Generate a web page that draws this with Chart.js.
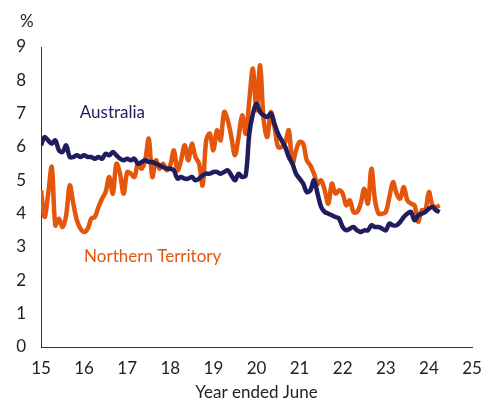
<!DOCTYPE html>
<html>
<head>
<meta charset="utf-8">
<script src="https://cdn.jsdelivr.net/npm/chart.js@4"></script>
<style>
  html, body { margin: 0; padding: 0; background: #fff; }
  #wrap { width: 494px; height: 403px; position: relative; }
</style>
</head>
<body>
<div id="wrap"><canvas id="canvas1"></canvas></div>
<script>
// monthly data, first point = June 2015 (year ended June '15)
var startYear = 15;
var australia = [
  6.05, 6.3, 6.2, 6.1, 6.2, 5.9, 5.85, 6.05, 5.7, 5.7, 5.75, 5.7,
  5.75, 5.7, 5.7, 5.65, 5.7, 5.65, 5.8, 5.75, 5.85, 5.75, 5.65, 5.6,
  5.65, 5.6, 5.65, 5.5, 5.55, 5.6, 5.55, 5.55, 5.5, 5.45, 5.4, 5.35,
  5.35, 5.3, 5.05, 5.1, 5.05, 5.05, 5.1, 5.0, 5.05, 5.15, 5.2, 5.2,
  5.25, 5.25, 5.2, 5.25, 5.3, 5.15, 5.0, 5.2, 5.1, 5.15, 6.4, 7.0,
  7.3, 7.05, 6.95, 6.9, 7.0, 6.7, 6.4, 6.2, 6.0, 5.7, 5.5, 5.2,
  5.05, 4.9, 4.65, 4.7, 5.0, 4.6, 4.2, 4.05, 4.0, 3.95, 3.9, 3.85,
  3.6, 3.5, 3.55, 3.6, 3.5, 3.45, 3.5, 3.5, 3.65, 3.6, 3.6, 3.55,
  3.5, 3.7, 3.65, 3.65, 3.75, 3.9, 4.0, 4.05, 3.8, 3.95, 4.0, 4.05,
  4.15, 4.2, 4.1, 4.05
];
var northernTerritory = [
  4.7, 3.9, 4.6, 5.4, 3.65, 3.85, 3.6, 3.95, 4.85, 4.3, 3.8, 3.55,
  3.45, 3.55, 3.85, 3.9, 4.2, 4.45, 4.65, 5.1, 4.6, 5.5, 5.2, 4.6,
  5.25, 5.2, 5.1, 5.5, 5.35, 5.6, 6.25, 5.1, 5.6, 5.35, 5.5, 5.3,
  5.45, 5.9, 5.3, 5.6, 6.05, 5.6, 6.1, 5.7, 5.5, 4.85, 6.2, 6.4,
  5.9, 6.5, 6.2, 7.05, 6.8, 6.3, 5.75, 6.3, 6.95, 6.4, 7.4, 8.35,
  7.1, 8.45, 6.8, 6.3, 7.05, 6.6, 6.0, 6.0, 6.15, 6.5, 5.5, 5.9,
  6.15, 6.1, 5.6, 5.45, 5.2, 4.9, 5.0, 4.7, 4.3, 4.9, 4.6, 4.7,
  4.6, 4.25, 4.4, 4.05, 4.05, 4.3, 4.75, 4.3, 5.35, 4.4, 4.0, 4.0,
  4.05, 4.5, 4.95, 4.6, 4.45, 4.8, 4.4, 4.3, 4.25, 3.75, 4.1, 4.1,
  4.65, 4.25, 4.2, 4.25
];
var xTicks = [15, 16, 17, 18, 19, 20, 21, 22, 23, 24, 25];
var yTicks = [0, 1, 2, 3, 4, 5, 6, 7, 8, 9];

var navy = '#1f1d5e';
var orange = '#e4560c';
var textColor = '#222222';
var font = 'Lato, "Open Sans", sans-serif';

function toPoints(values) {
  return values.map(function (v, i) {
    return { x: startYear + i / 12, y: v };
  });
}

// text labels placed in data coordinates
var seriesLabels = {
  id: 'seriesLabels',
  afterDraw: function (chart) {
    var c = chart.ctx;
    var xs = chart.scales.x, ys = chart.scales.y;
    c.save();
    c.font = '17px ' + font;
    c.textBaseline = 'middle';
    c.textAlign = 'left';
    c.fillStyle = navy;
    c.fillText('Australia', xs.getPixelForValue(15.9), ys.getPixelForValue(7.02));
    c.fillStyle = orange;
    c.fillText('Northern Territory', xs.getPixelForValue(16.0), ys.getPixelForValue(2.71));
    c.fillStyle = textColor;
    c.fillText('%', 20, ys.getPixelForValue(9) - 25);
    c.restore();
  }
};

var ctx1 = document.getElementById('canvas1').getContext('2d');
var myChart1 = new Chart(ctx1, {
  type: 'line',
  data: {
    datasets: [{
      label: 'Australia',
      data: toPoints(australia),
      borderColor: navy,
      borderWidth: 4.5,
      pointRadius: 0,
      tension: 0.35,
      fill: false
    }, {
      label: 'Northern Territory',
      data: toPoints(northernTerritory),
      borderColor: orange,
      borderWidth: 4.5,
      pointRadius: 0,
      tension: 0.35,
      fill: false
    }]
  },
  options: {
    responsive: true,
    maintainAspectRatio: false,
    animation: false,
    layout: { padding: { left: 0, right: 22, top: 47, bottom: 0 } },
    plugins: {
      legend: { display: false },
      tooltip: { enabled: false }
    },
    scales: {
      x: {
        type: 'linear',
        min: 15,
        max: 25,
        afterBuildTicks: function (axis) {
          axis.ticks = xTicks.map(function (v) { return { value: v }; });
        },
        afterFit: function (axis) { axis.height = 56; },
        grid: { display: false, drawTicks: false },
        border: { display: true, color: '#333333', width: 1 },
        ticks: {
          color: textColor,
          font: { family: font, size: 17 },
          padding: 11,
          maxRotation: 0,
          autoSkip: false
        },
        title: {
          display: true,
          text: 'Year ended June',
          color: textColor,
          font: { family: font, size: 17 },
          padding: { top: 0, bottom: 0 }
        }
      },
      y: {
        min: 0,
        max: 9,
        afterBuildTicks: function (axis) {
          axis.ticks = yTicks.map(function (v) { return { value: v }; });
        },
        afterFit: function (axis) { axis.width = 41; },
        grid: { display: false, drawTicks: false },
        border: { display: true, color: '#333333', width: 1 },
        ticks: {
          color: textColor,
          font: { family: font, size: 17 },
          padding: 15
        }
      }
    }
  },
  plugins: [seriesLabels]
});
</script>
</body>
</html>
